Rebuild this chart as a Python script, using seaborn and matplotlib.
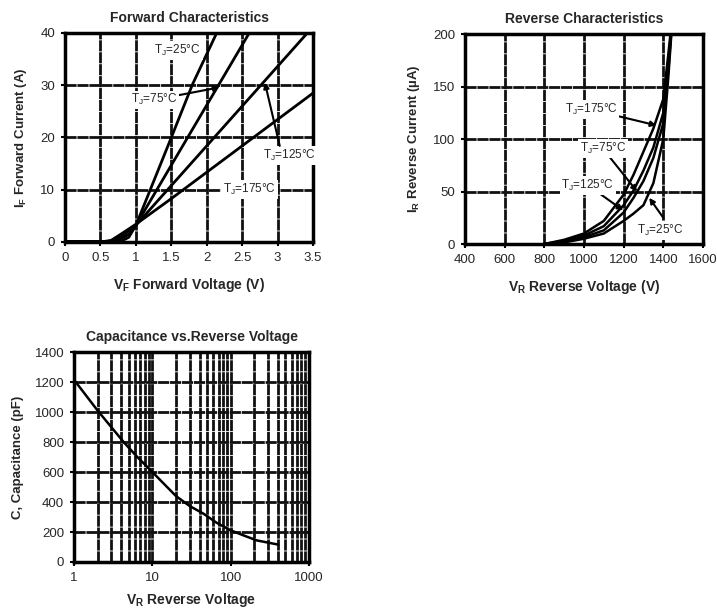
import numpy as np
import pandas as pd
import matplotlib
matplotlib.use('Agg')
import matplotlib.pyplot as plt
import matplotlib.ticker as mticker
import seaborn as sns

# Forward characteristics (V, A)
fwd_v = {
    '25': [0, 0.6, 0.8, 0.9, 1.0, 1.2, 1.5, 1.8, 2.14],
    '75': [0, 0.6, 0.75, 0.9, 1.0, 1.5, 2.0, 2.6],
    '125': [0, 0.6, 0.7, 0.85, 1.0, 1.5, 2.5, 3.42],
    '175': [0, 0.55, 0.65, 0.8, 1.0, 1.5, 2.5, 3.5],
}
fwd_i = {
    '25': [0.1, 0.1, 0.2, 0.9, 3.2, 9.9, 20.0, 30.2, 40],
    '75': [0.1, 0.1, 0.3, 1.5, 3.2, 14.7, 26.2, 40],
    '125': [0.1, 0.1, 0.3, 1.6, 3.2, 10.8, 26.0, 40],
    '175': [0.1, 0.1, 0.3, 1.6, 3.4, 8.3, 18.4, 28.5],
}

# Reverse characteristics (V, uA)
rev_v = [800, 900, 1000, 1100, 1200, 1250, 1300, 1350, 1400, 1425, 1450]
rev_i = {
    '175': [0, 4, 10, 22, 47, 66, 88, 110, 138, 180, 225],
    '125': [0, 3, 8, 17, 37, 51, 70, 92, 125, 172, 225],
    '75': [0, 2, 6.5, 13, 30, 44, 60, 82, 115, 165, 225],
    '25': [0, 1.5, 5, 10, 22, 29, 37, 58, 100, 158, 225],
}

# Capacitance vs reverse voltage
cap_v = [1, 2, 4.3, 6.3, 10, 20, 30, 45, 66, 100, 145, 215, 316, 405]
cap_c = [1215, 1010, 800, 705, 600, 440, 373, 322, 262, 211, 178, 144, 127,
         116]

sns.set_style('white')
plt.rcParams['font.family'] = ['Liberation Sans', 'DejaVu Sans']
plt.rcParams['mathtext.fontset'] = 'custom'
plt.rcParams['mathtext.rm'] = 'Liberation Sans'
plt.rcParams['mathtext.it'] = 'Liberation Sans'
plt.rcParams['mathtext.bf'] = 'Liberation Sans:bold'

fig = plt.figure(figsize=(7.17, 6.12), dpi=100)
ax1 = fig.add_axes([0.0907, 0.6046, 0.3459, 0.3415])
ax2 = fig.add_axes([0.6485, 0.6013, 0.3319, 0.3431])
ax3 = fig.add_axes([0.1032, 0.0817, 0.3278, 0.3431])

grid_kw = dict(color='#111111', linestyle=(0, (4, 0.3)), linewidth=2.0)
arrow_kw = dict(arrowstyle='-|>', color='black', lw=1.5, mutation_scale=8,
                shrinkA=0, shrinkB=0)


def style(ax):
    for s in ax.spines.values():
        s.set_color('black')
        s.set_linewidth(2.5)
    ax.tick_params(axis='both', which='both', direction='out', length=3,
                   width=1.5, color='black', labelsize=9.5, pad=4,
                   bottom=True, left=True)
    ax.set_axisbelow(True)


def label(ax, text, xy, xytext=None):
    box = dict(boxstyle='square,pad=0.15', fc='white', ec='none')
    if xytext is None:
        ax.text(xy[0], xy[1], text, fontsize=8.5, ha='center', va='center',
                bbox=box, zorder=5)
    else:
        ax.annotate(text, xy=xy, xytext=xytext, fontsize=8.5, ha='center',
                    va='center', bbox=box, zorder=5, arrowprops=arrow_kw)


# ---- Forward characteristics
for t in ['25', '75', '125', '175']:
    sns.lineplot(x=fwd_v[t], y=fwd_i[t], ax=ax1, color='black', lw=2,
                 sort=False)
ax1.set_xlim(0, 3.5)
ax1.set_ylim(0, 40)
ax1.set_xticks(np.arange(0, 3.51, 0.5))
ax1.set_xticklabels(['0', '0.5', '1', '1.5', '2', '2.5', '3', '3.5'])
ax1.set_yticks([0, 10, 20, 30, 40])
ax1.grid(True, **grid_kw)
style(ax1)
ax1.set_title('Forward Characteristics', fontsize=10, fontweight='bold', pad=8)
ax1.set_xlabel(r'$\mathbf{V_F}$ Forward Voltage (V)', fontsize=10,
               fontweight='bold', labelpad=9)
ax1.set_ylabel(r'$\mathbf{I_F}$ Forward Current (A)', fontsize=9.5,
               fontweight='bold', labelpad=8)
label(ax1, 'T$_J$=25°C', (1.59, 36.6))
label(ax1, 'T$_J$=75°C', (2.18, 29.6), (1.26, 27.2))
ax1.annotate('', xy=(2.82, 30.5), xytext=(3.03, 18.4), arrowprops=arrow_kw,
             zorder=6)
label(ax1, 'T$_J$=125°C', (3.17, 16.5))
label(ax1, 'T$_J$=175°C', (2.6, 10))

# ---- Reverse characteristics
for t in ['175', '125', '75', '25']:
    sns.lineplot(x=rev_v, y=rev_i[t], ax=ax2, color='black', lw=1.8,
                 sort=False)
ax2.set_xlim(400, 1600)
ax2.set_ylim(0, 200)
ax2.set_xticks(np.arange(400, 1601, 200))
ax2.set_yticks([0, 50, 100, 150, 200])
ax2.grid(True, **grid_kw)
style(ax2)
ax2.set_title('Reverse Characteristics', fontsize=10, fontweight='bold', pad=8)
ax2.set_xlabel(r'$\mathbf{V_R}$ Reverse Voltage (V)', fontsize=10,
               fontweight='bold', labelpad=9)
ax2.set_ylabel(r'$\mathbf{I_R}$ Reverse Current (µA)', fontsize=9.5,
               fontweight='bold', labelpad=8)
label(ax2, 'T$_J$=175°C', (1365, 113), (1036, 128))
label(ax2, 'T$_J$=75°C', (1268, 50), (1095, 91))
label(ax2, 'T$_J$=125°C', (1198, 32), (1020, 56))
ax2.annotate('', xy=(1329, 44), xytext=(1400, 25), arrowprops=arrow_kw,
             zorder=6)
label(ax2, 'T$_J$=25°C', (1385, 13))

# ---- Capacitance
sns.lineplot(x=cap_v, y=cap_c, ax=ax3, color='black', lw=1.8, sort=False)
ax3.set_xscale('log')
ax3.set_xlim(1, 1000)
ax3.set_ylim(0, 1400)
ax3.set_yticks(np.arange(0, 1401, 200))
ax3.xaxis.set_major_locator(mticker.FixedLocator([1, 10, 100, 1000]))
ax3.xaxis.set_major_formatter(mticker.FixedFormatter(['1', '10', '100', '1000']))
ax3.xaxis.set_minor_locator(mticker.LogLocator(base=10, subs=np.arange(2, 10)))
ax3.xaxis.set_minor_formatter(mticker.NullFormatter())
ax3.grid(True, which='major', axis='both', **grid_kw)
ax3.grid(True, which='minor', axis='x', **grid_kw)
style(ax3)
ax3.tick_params(axis='x', which='minor', length=0)
ax3.set_title('Capacitance vs.Reverse Voltage', fontsize=10,
              fontweight='bold', pad=8)
ax3.set_xlabel(r'$\mathbf{V_R}$ Reverse Voltage', fontsize=10,
               fontweight='bold', labelpad=5)
ax3.set_ylabel('C, Capacitance (pF)', fontsize=9.5, fontweight='bold',
               labelpad=8)

fig.savefig('out.png', dpi=100)
